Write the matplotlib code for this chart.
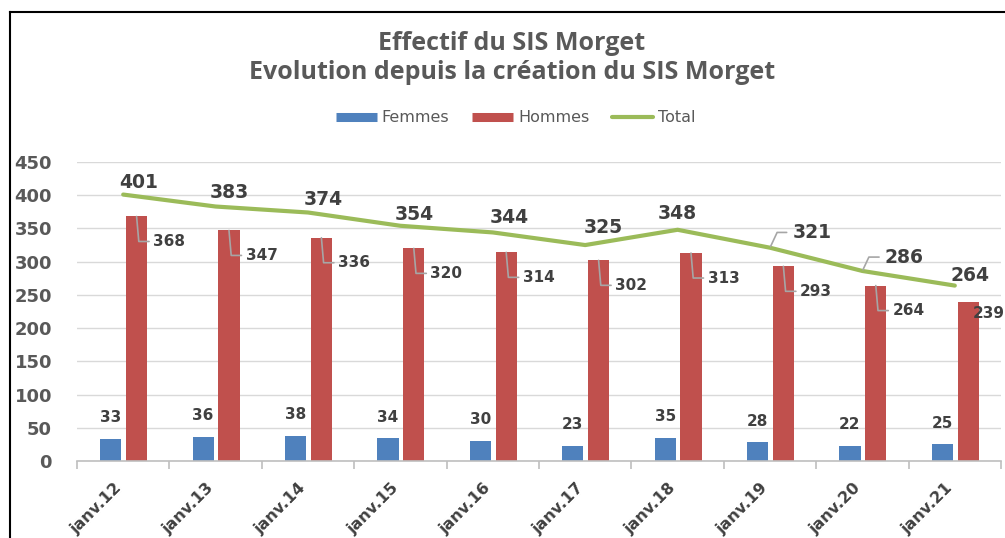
import numpy as np
import matplotlib
matplotlib.use('Agg')
import matplotlib.pyplot as plt
import matplotlib.transforms as mtransforms
from matplotlib.lines import Line2D

# data
annees = ['janv.12', 'janv.13', 'janv.14', 'janv.15', 'janv.16',
          'janv.17', 'janv.18', 'janv.19', 'janv.20', 'janv.21']
femmes = [33, 36, 38, 34, 30, 23, 35, 28, 22, 25]
hommes = [368, 347, 336, 320, 314, 302, 313, 293, 264, 239]
total = [401, 383, 374, 354, 344, 325, 348, 321, 286, 264]

bleu = '#4F81BD'
rouge = '#C0504D'
vert = '#9BBB59'
gris = '#595959'
fonce = '#404040'

fig = plt.figure(figsize=(10.05, 5.38), dpi=100)
ax = fig.add_axes([77 / 1005, 77 / 538, 924 / 1005, 299 / 538])

x = np.arange(len(annees))
w = 0.23
ax.bar(x - 0.135, femmes, w, color=bleu, zorder=2)
ax.bar(x + 0.145, hommes, w, color=rouge, zorder=2)
ax.plot(x, total, color=vert, lw=3, zorder=3, solid_capstyle='round')

ax.set_xlim(-0.5, len(annees) - 0.5)
ax.set_ylim(0, 450)
ax.set_yticks(np.arange(0, 451, 50))
ax.grid(axis='y', color='#d9d9d9', lw=1, zorder=0)
ax.set_axisbelow(True)
for s in ['top', 'right', 'left']:
    ax.spines[s].set_visible(False)
ax.spines['bottom'].set_color('#bfbfbf')
ax.spines['bottom'].set_linewidth(1.2)

ax.tick_params(axis='y', length=0, pad=18, labelsize=13, labelcolor=gris)
for t in ax.get_yticklabels():
    t.set_fontweight('bold')

ax.set_xticks(x)
ax.set_xticklabels(annees, rotation=45, ha='right', fontsize=11.5,
                   fontweight='bold', color=fonce)
ax.set_xticks(np.arange(-0.5, len(annees)), minor=True)
ax.tick_params(axis='x', which='major', length=0, pad=14)
ax.tick_params(axis='x', which='minor', length=6, color='#bfbfbf', width=1.2)
off = mtransforms.ScaledTranslation(1 / 100, 0, fig.dpi_scale_trans)
for t in ax.get_xticklabels():
    t.set_transform(t.get_transform() + off)

# labels femmes
for i, v in enumerate(femmes):
    ax.annotate(str(v), (x[i] - 0.135, v), xytext=(0, 10), textcoords='offset points',
                ha='center', va='bottom', fontsize=11, fontweight='bold', color=fonce)

# labels hommes with leader lines
for i, v in enumerate(hommes):
    if i == len(hommes) - 1:
        ax.annotate(str(v), (x[i] + 0.145, v), xytext=(3, -8), textcoords='offset points',
                    ha='left', va='center', fontsize=11, fontweight='bold', color=fonce)
        continue
    ax.annotate(str(v), (x[i] + 0.145, v), xytext=(12, -18), textcoords='offset points',
                ha='left', va='center', fontsize=11, fontweight='bold', color=fonce,
                arrowprops=dict(arrowstyle='-', color='#a6a6a6', lw=1.2, shrinkA=1, shrinkB=0,
                                connectionstyle='angle,angleA=0,angleB=95,rad=0'))

# labels total
offsets = [(11, 9), (10, 10), (11, 9), (10, 8), (12, 11), (13, 13), (0, 12), (16, 11), (16, 10), (11, 7)]
for i, v in enumerate(total):
    dx, dy = offsets[i]
    if i in (7, 8):
        ax.annotate(str(v), (x[i], v), xytext=(dx, dy), textcoords='offset points',
                    ha='left', va='center', fontsize=13.5, fontweight='bold', color=fonce,
                    arrowprops=dict(arrowstyle='-', color='#a6a6a6', lw=1.2, shrinkA=2, shrinkB=1,
                                    connectionstyle='angle,angleA=0,angleB=65,rad=0'))
    else:
        ax.annotate(str(v), (x[i], v), xytext=(dx, dy), textcoords='offset points',
                    ha='center', va='center', fontsize=13.5, fontweight='bold', color=fonce)

fig.text(0.5095, 1 - 43 / 538, 'Effectif du SIS Morget', ha='center', va='center',
         fontsize=18, fontweight='bold', color=gris, family='Open Sans')
fig.text(0.5095, 1 - 73 / 538, 'Evolution depuis la création du SIS Morget', ha='center', va='center',
         fontsize=18, fontweight='bold', color=gris, family='Open Sans')

handles = [Line2D([], [], color=bleu, lw=6.5, solid_capstyle='butt'),
           Line2D([], [], color=rouge, lw=6.5, solid_capstyle='butt'),
           Line2D([], [], color=vert, lw=3, solid_capstyle='round')]
leg = fig.legend(handles, ['Femmes', 'Hommes', 'Total'], loc='center',
                 bbox_to_anchor=(0.513, 1 - 118 / 538), ncol=3, frameon=False,
                 fontsize=11.5, handlelength=2.6, handletextpad=0.3, columnspacing=1.4)
for t in leg.get_texts():
    t.set_color(gris)

# outer frame (left and top visible)
fig.add_artist(Line2D([10 / 1005, 10 / 1005], [0, 1 - 12 / 538], color='black', lw=1.5,
                      transform=fig.transFigure))
fig.add_artist(Line2D([10 / 1005, 1], [1 - 12 / 538, 1 - 12 / 538], color='black', lw=1.5,
                      transform=fig.transFigure))

fig.savefig('out.png', dpi=100)
